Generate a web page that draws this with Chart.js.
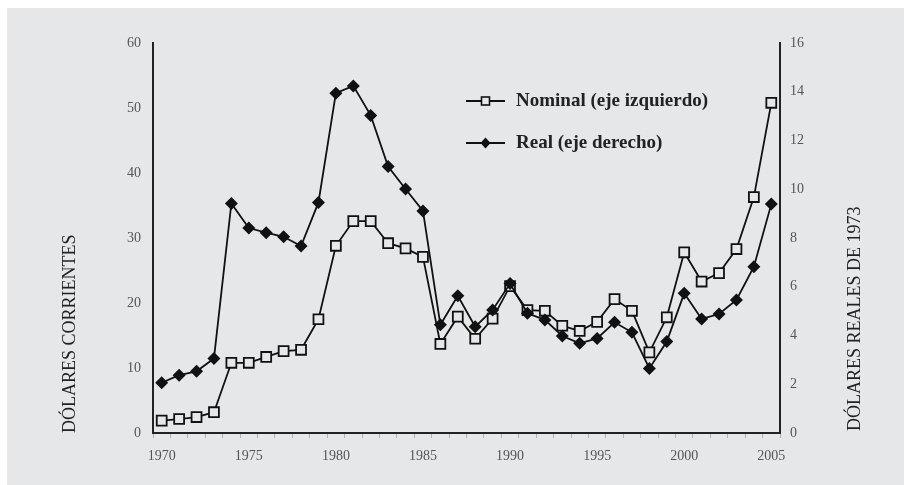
<!DOCTYPE html>
<html>
<head>
<meta charset="utf-8">
<script src="https://cdn.jsdelivr.net/npm/chart.js@4/dist/chart.umd.min.js"></script>
<style>
  html, body { margin: 0; padding: 0; background: #ffffff; }
  #panel { position: absolute; left: 7px; top: 8px; width: 897px; height: 477px; background: #e6e7e9; }
  #panel canvas { display: block; }
</style>
</head>
<body>
<div id="panel"><canvas id="c"></canvas></div>
<script>
// ---- Data ----
const years = ["1970","1971","1972","1973","1974","1975","1976","1977","1978","1979",
               "1980","1981","1982","1983","1984","1985","1986","1987","1988","1989",
               "1990","1991","1992","1993","1994","1995","1996","1997","1998","1999",
               "2000","2001","2002","2003","2004","2005"];
const nominal = [1.9, 2.15, 2.45, 3.2, 10.8, 10.8, 11.7, 12.6, 12.8, 17.5,
                 28.8, 32.6, 32.6, 29.2, 28.4, 27.1, 13.7, 17.9, 14.5, 17.6,
                 22.6, 18.9, 18.8, 16.5, 15.7, 17.1, 20.6, 18.8, 12.4, 17.8,
                 27.8, 23.3, 24.6, 28.3, 36.3, 50.8];
const real = [2.06, 2.37, 2.53, 3.06, 9.42, 8.41, 8.22, 8.05, 7.67, 9.46,
              13.94, 14.24, 13.03, 10.93, 10.01, 9.11, 4.44, 5.63, 4.36, 5.05,
              6.13, 4.91, 4.64, 3.98, 3.68, 3.88, 4.54, 4.13, 2.65, 3.75,
              5.73, 4.68, 4.88, 5.46, 6.82, 9.39];
const labeledYears = ["1970","1975","1980","1985","1990","1995","2000","2005"];
const leftTicks = [0, 10, 20, 30, 40, 50, 60];
const rightTicks = [0, 2, 4, 6, 8, 10, 12, 14, 16];
const seriesNames = ["Nominal (eje izquierdo)", "Real (eje derecho)"];
const leftTitle = "DÓLARES CORRIENTES";
const rightTitle = "DÓLARES REALES DE 1973";

const BG = '#e6e7e9';
const SERIF = '"Liberation Serif", "DejaVu Serif", serif';

const inChartLegend = {
  id: 'inChartLegend',
  afterDraw(chart) {
    const ctx = chart.ctx;
    const items = [
      { ds: chart.data.datasets[0], y: 93 },
      { ds: chart.data.datasets[1], y: 135 }
    ];
    ctx.save();
    items.forEach(it => {
      ctx.strokeStyle = '#111';
      ctx.lineWidth = 1.8;
      ctx.beginPath();
      ctx.moveTo(459, it.y);
      ctx.lineTo(498, it.y);
      ctx.stroke();
      const cx = 478.5;
      if (it.ds.pointStyle === 'rect') {
        ctx.fillStyle = BG;
        ctx.lineWidth = 1.6;
        ctx.fillRect(cx - 4, it.y - 4, 8, 8);
        ctx.strokeRect(cx - 4, it.y - 4, 8, 8);
      } else {
        ctx.fillStyle = '#111';
        ctx.beginPath();
        ctx.moveTo(cx, it.y - 5.5);
        ctx.lineTo(cx + 5, it.y);
        ctx.lineTo(cx, it.y + 5.5);
        ctx.lineTo(cx - 5, it.y);
        ctx.closePath();
        ctx.fill();
      }
      ctx.fillStyle = '#222';
      ctx.font = 'bold 19px ' + SERIF;
      ctx.textAlign = 'left';
      ctx.textBaseline = 'middle';
      ctx.fillText(it.ds.label, 509, it.y);
    });
    // right axis title, reading bottom to top
    const yr = chart.scales.yR;
    ctx.translate(848, yr.bottom - 2);
    ctx.rotate(-Math.PI / 2);
    ctx.fillStyle = '#222';
    ctx.font = '18px ' + SERIF;
    ctx.textAlign = 'left';
    ctx.textBaseline = 'middle';
    ctx.fillText(rightTitle, 0, 0);
    ctx.restore();
  }
};

new Chart(document.getElementById('c'), {
  type: 'line',
  data: {
    labels: years,
    datasets: [
      {
        label: seriesNames[0],
        data: nominal,
        yAxisID: 'yL',
        order: 1,
        borderColor: '#111',
        borderWidth: 1.8,
        pointStyle: 'rect',
        pointRadius: 7,
        pointBorderWidth: 1.8,
        pointBackgroundColor: BG,
        pointBorderColor: '#111',
        tension: 0,
        fill: false
      },
      {
        label: seriesNames[1],
        data: real,
        yAxisID: 'yR',
        order: 0,
        borderColor: '#111',
        borderWidth: 1.8,
        pointStyle: 'rectRot',
        pointRadius: 6.5,
        pointBorderWidth: 0,
        pointBackgroundColor: '#111',
        pointBorderColor: '#111',
        tension: 0,
        fill: false
      }
    ]
  },
  options: {
    responsive: true,
    maintainAspectRatio: false,
    animation: false,
    layout: { padding: { top: 35, left: 0, right: 0, bottom: 0 } },
    plugins: { legend: { display: false }, tooltip: { enabled: false } },
    scales: {
      x: {
        type: 'category',
        offset: true,
        afterFit(s) { s.height = 52; },
        grid: { offset: true, drawOnChartArea: false, drawTicks: true, tickLength: 5, color: '#b0b0b0', lineWidth: 1 },
        border: { display: true, color: '#222', width: 2 },
        ticks: {
          autoSkip: false, maxRotation: 0, padding: 10,
          color: '#555', font: { family: SERIF, size: 14 },
          callback(v) { const l = this.getLabelForValue(v); return labeledYears.includes(l) ? l : ''; }
        }
      },
      yL: {
        position: 'left',
        min: leftTicks[0], max: leftTicks[leftTicks.length - 1],
        afterFit(s) { s.width = 146; },
        afterBuildTicks(s) { s.ticks = leftTicks.map(v => ({ value: v })); },
        grid: { display: false, drawTicks: false },
        border: { display: true, color: '#222', width: 2 },
        ticks: { padding: 12, color: '#555', font: { family: SERIF, size: 14 } },
        title: {
          display: true, text: leftTitle, align: 'start', color: '#222',
          font: { family: SERIF, size: 18 }, padding: { top: 52, bottom: 0 }
        }
      },
      yR: {
        position: 'right',
        min: rightTicks[0], max: rightTicks[rightTicks.length - 1],
        afterFit(s) { s.width = 124; },
        afterBuildTicks(s) { s.ticks = rightTicks.map(v => ({ value: v })); },
        grid: { display: false, drawTicks: false },
        border: { display: true, color: '#222', width: 2 },
        ticks: { padding: 10, color: '#555', font: { family: SERIF, size: 14 } }
      }
    }
  },
  plugins: [inChartLegend]
});
</script>
</body>
</html>
